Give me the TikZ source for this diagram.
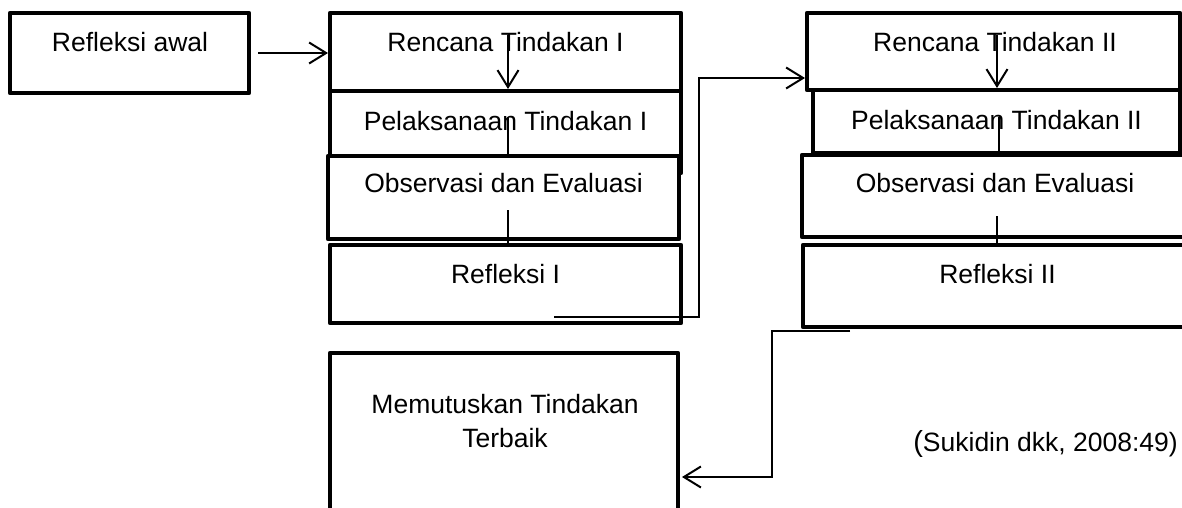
\documentclass[tikz,border=0pt]{standalone}
\usepackage{fontspec}
\setmainfont{Liberation Sans}
\usetikzlibrary{arrows.meta}
\begin{document}
\begin{tikzpicture}[x=1pt,y=-1pt,
  box/.style={draw, line width=4.5pt, line join=round, fill=white, inner sep=0pt, outer sep=0pt, rectangle},
  lbl/.style={font=\fontsize{26.5}{34}\selectfont, inner sep=0pt, anchor=base, align=center},
  conn/.style={line width=2pt},
  arr/.style={conn, -{Straight Barb[length=17pt,width=21pt]}}]
\useasboundingbox (0,0) rectangle (1182,508);
\clip (0,0) rectangle (1182,508);

% left box
\node[box, minimum width=239pt, minimum height=80pt] (ra) at (129.5,53) {};
\node[lbl] (rat) at ([xshift=0.5pt,yshift=-39pt]ra.north) {Refleksi awal};

% middle column
\node[box, minimum width=351pt, minimum height=78pt] (r1) at (505.5,52) {};
\node[box, minimum width=351pt, minimum height=82pt] (p1) at (505.5,132) {};
\node[box, minimum width=351pt, minimum height=83pt] (o1) at (503.5,197.5) {};
\node[box, minimum width=351pt, minimum height=78pt] (f1) at (505.5,284) {};
\node[lbl] (r1t) at ([yshift=-39pt]r1.north) {Rencana Tindakan I};
\node[lbl] (p1t) at ([yshift=-39pt]p1.north) {Pelaksanaan Tindakan I};
\node[lbl] (o1t) at ([yshift=-36pt]o1.north) {Observasi dan Evaluasi};
\node[lbl] (f1t) at ([yshift=-38pt]f1.north) {Refleksi I};

% right column
\node[box, minimum width=373pt, minimum height=77pt] (r2) at (993.5,51.5) {};
\node[box, minimum width=367pt, minimum height=63pt] (p2) at (996.5,121.5) {};
\node[box, minimum width=393pt, minimum height=82pt] (o2) at (998.5,196) {};
\node[box, minimum width=392pt, minimum height=82pt] (f2) at (999,286) {};
\node[lbl] (r2t) at ([xshift=1.5pt,yshift=-39pt]r2.north) {Rencana Tindakan II};
\node[lbl] (p2t) at ([yshift=-39pt]p2.north) {Pelaksanaan Tindakan II};
\node[lbl] (o2t) at ([xshift=-3.5pt,yshift=-37pt]o2.north) {Observasi dan Evaluasi};
\node[lbl] (f2t) at ([xshift=-1.5pt,yshift=-38pt]f2.north) {Refleksi II};

% bottom box
\node[box, minimum width=348pt, minimum height=167pt] (m) at (504,436.5) {};
\node[lbl, anchor=north] (mt) at ([xshift=1pt,yshift=-41pt]m.north) {Memutuskan Tindakan\\Terbaik};

% citation
\node[lbl, anchor=base east] (cite) at (1178,451) {{\fontsize{29}{34}\selectfont(}Sukidin dkk, 2008:49)};

% arrow from Refleksi awal
\draw[arr, shorten <=9pt, shorten >=2pt] (ra.east) -- (ra.east -| r1.west);

% vertical links, middle column
\coordinate (v1a) at (508,35);
\coordinate (v1b) at (508,117);
\coordinate (v1c) at (508,210);
\draw[arr, shorten >=2pt] (v1a) -- (v1a |- r1.south);
\draw[conn] (v1b) -- (v1b |- o1.north);
\draw[conn] (v1c) -- (v1c |- f1.north);

% vertical links, right column
\coordinate (v2a) at (997,35);
\coordinate (v2b) at (999,117);
\coordinate (v2c) at (997,216);
\draw[arr, shorten >=2pt] (v2a) -- (v2a |- r2.south);
\draw[conn] (v2b) -- (v2b |- o2.north);
\draw[conn] (v2c) -- (v2c |- f2.north);

% Refleksi I -> Rencana II
\coordinate (c1s) at (554,317);
\coordinate (c1k) at (699,78);
\draw[arr, shorten >=2pt] (c1s) -| (c1k) -- (c1k -| r2.west);

% Refleksi II -> Memutuskan
\coordinate (c2s) at (850,331);
\coordinate (c2k) at (772,477);
\draw[arr, shorten >=4pt] (c2s) -| (c2k) -- (c2k -| m.east);
\end{tikzpicture}
\end{document}
